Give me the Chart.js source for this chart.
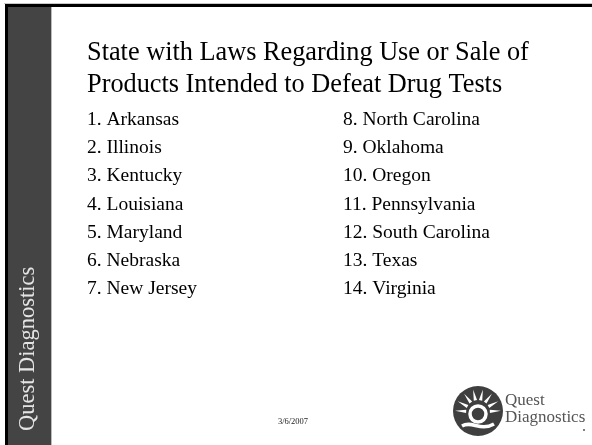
<!DOCTYPE html>
<html>
<head>
<meta charset="utf-8">
<title>State with Laws Regarding Use or Sale of Products Intended to Defeat Drug Tests</title>
<script src="https://cdn.jsdelivr.net/npm/chart.js@4"></script>
<style>
    html, body { margin: 0; padding: 0; background: #fff; }
    canvas { display: block; }
</style>
</head>
<body>
<canvas id="slide" width="592" height="445"></canvas>
<script>
// данные слайда
const titleLines = ['State with Laws Regarding Use or Sale of', 'Products Intended to Defeat Drug Tests'];
const stateNumbers = [1, 2, 3, 4, 5, 6, 7, 8, 9, 10, 11, 12, 13, 14];
const stateNames = ['Arkansas', 'Illinois', 'Kentucky', 'Louisiana', 'Maryland', 'Nebraska', 'New Jersey',
    'North Carolina', 'Oklahoma', 'Oregon', 'Pennsylvania', 'South Carolina', 'Texas', 'Virginia'];
const listColumn = [0, 0, 0, 0, 0, 0, 0, 1, 1, 1, 1, 1, 1, 1];
const listRow = [0, 1, 2, 3, 4, 5, 6, 0, 1, 2, 3, 4, 5, 6];
const sideText = 'Quest Diagnostics';
const logoWords = ['Quest', 'Diagnostics'];
const slideDate = '3/6/2007';

const serif = "'Liberation Serif', 'Times New Roman', serif";

// рамка слайда, боковая полоса, заголовок, дата и логотип
const slideFrame = {
    id: 'slideFrame',
    beforeDraw(chart) {
        const ctx = chart.ctx;
        ctx.save();
        ctx.fillStyle = '#fff';
        ctx.fillRect(0, 0, 592, 445);

        // тонкая серая тень над рамкой
        ctx.fillStyle = '#c8c8c8';
        ctx.fillRect(4, 3, 588, 1);
        // верхняя и левая черные линии
        ctx.fillStyle = '#000';
        ctx.fillRect(5, 4, 587, 3);
        ctx.fillRect(5, 4, 3, 441);
        // боковая полоса
        ctx.fillStyle = '#444';
        ctx.fillRect(8, 7, 43, 438);
        ctx.fillStyle = '#bbb';
        ctx.fillRect(51, 7, 1, 438);

        // вертикальная надпись
        ctx.translate(34, 431);
        ctx.rotate(-Math.PI / 2);
        ctx.fillStyle = '#e4e4e4';
        ctx.font = '22.5px ' + serif;
        ctx.textBaseline = 'alphabetic';
        ctx.fillText(sideText, 0, 0);
        ctx.restore();

        ctx.save();
        ctx.fillStyle = '#000';
        ctx.font = '26.3px ' + serif;
        ctx.textBaseline = 'alphabetic';
        ctx.fillText(titleLines[0], 87, 60);
        ctx.fillText(titleLines[1], 87, 92);

        ctx.font = '8.5px ' + serif;
        ctx.textAlign = 'center';
        ctx.fillStyle = '#222';
        ctx.fillText(slideDate, 293, 424);
        ctx.restore();

        drawLogo(ctx);
    },
    afterDatasetsDraw(chart) {
        const ctx = chart.ctx;
        const points = chart.getDatasetMeta(0).data;
        ctx.save();
        ctx.fillStyle = '#000';
        ctx.font = '19.5px ' + serif;
        ctx.textBaseline = 'alphabetic';
        points.forEach((pt, i) => {
            ctx.fillText(stateNumbers[i] + '. ' + stateNames[i], pt.x, pt.y);
        });
        ctx.restore();
    }
};

function drawLogo(ctx) {
    const cx = 478, cy = 411, r = 25;
    ctx.save();
    ctx.fillStyle = '#3f3f3f';
    ctx.beginPath();
    ctx.arc(cx, cy, r, 0, Math.PI * 2);
    ctx.fill();

    // лучи солнца
    ctx.fillStyle = '#fff';
    for (let k = 0; k < 8; k++) {
        const a = Math.PI * 0.95 + (k + 0.5) * Math.PI * 1.1 / 8;
        const a1 = a - 0.14, a2 = a + 0.14;
        ctx.beginPath();
        ctx.moveTo(cx + Math.cos(a1) * 12, cy + 1 + Math.sin(a1) * 12);
        ctx.lineTo(cx + Math.cos(a) * 23, cy + 1 + Math.sin(a) * 23);
        ctx.lineTo(cx + Math.cos(a2) * 12, cy + 1 + Math.sin(a2) * 12);
        ctx.closePath();
        ctx.fill();
    }
    // буква Q
    ctx.strokeStyle = '#fff';
    ctx.lineWidth = 3.5;
    ctx.beginPath();
    ctx.arc(cx, cy + 3, 8, 0, Math.PI * 2);
    ctx.stroke();
    ctx.beginPath();
    ctx.moveTo(cx - 16, cy + 15);
    ctx.bezierCurveTo(cx - 6, cy + 9, cx + 2, cy + 21, cx + 16, cy + 13);
    ctx.stroke();
    ctx.restore();

    ctx.save();
    ctx.fillStyle = '#555';
    ctx.font = '17px ' + serif;
    ctx.textBaseline = 'alphabetic';
    ctx.fillText(logoWords[0], 505, 405);
    ctx.fillText(logoWords[1], 505, 422);
    ctx.beginPath();
    ctx.arc(584, 430, 1, 0, Math.PI * 2);
    ctx.fill();
    ctx.restore();
}

const listPoints = [];
for (let i = 0; i < stateNames.length; i++) {
    listPoints.push({x: listColumn[i], y: listRow[i]});
}

new Chart(document.getElementById('slide'), {
    type: 'scatter',
    data: {
        datasets: [{
            label: 'States',
            data: listPoints,
            pointRadius: 0,
            pointHoverRadius: 0
        }]
    },
    options: {
        responsive: false,
        animation: false,
        events: [],
        layout: {
            padding: {left: 87, right: 249, top: 125, bottom: 151}
        },
        scales: {
            x: {type: 'linear', min: 0, max: 1, display: false},
            y: {type: 'linear', min: 0, max: 6, reverse: true, display: false}
        },
        plugins: {
            legend: {display: false},
            tooltip: {enabled: false},
            title: {display: false}
        }
    },
    plugins: [slideFrame]
});
</script>
</body>
</html>
